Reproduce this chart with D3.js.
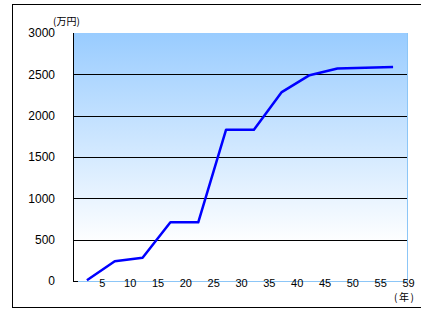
<!DOCTYPE html>
<html>
<head>
<meta charset="utf-8">
<script src="https://cdn.jsdelivr.net/npm/d3@7"></script>
<style>
  body { margin: 0; background: #fff; }
  text { font-family: "Liberation Sans", Arial, sans-serif; }
</style>
</head>
<body>
<div id="container"></div>
<script>
const w = 421;
const h = 309;

// data (万円 per period)
const values = [10, 240, 280, 710, 710, 1830, 1830, 2285, 2490, 2570, 2580, 2590];
const xLabels = ['5', '10', '15', '20', '25', '30', '35', '40', '45', '50', '55', '59'];
const yTicks = [0, 500, 1000, 1500, 2000, 2500, 3000];

const pLeft = 73, pRight = 407, pTop = 33, pBottom = 281;

const svg = d3.select('#container')
  .append('svg')
    .attr('width', w)
    .attr('height', h)
    .attr('viewBox', [0, 0, w, h]);

// outer frame (right side runs off the picture)
svg.append('rect')
  .attr('x', 12.5)
  .attr('y', 4.5)
  .attr('width', 420)
  .attr('height', 303)
  .attr('fill', 'none')
  .attr('stroke', '#000');

const x = d3.scaleLinear()
  .domain([0, values.length])
  .range([pLeft, pRight]);

const y = d3.scaleLinear()
  .domain([0, 3000])
  .range([pBottom, pTop]);

const grad = svg.append('defs')
  .append('linearGradient')
    .attr('id', 'bg')
    .attr('x1', 0).attr('y1', 0)
    .attr('x2', 0).attr('y2', 1);
grad.append('stop').attr('offset', '0%').attr('stop-color', '#99ccff');
grad.append('stop').attr('offset', '85%').attr('stop-color', '#ffffff');
grad.append('stop').attr('offset', '100%').attr('stop-color', '#ffffff');

svg.append('rect')
  .attr('x', pLeft)
  .attr('y', pTop)
  .attr('width', pRight - pLeft)
  .attr('height', pBottom - pTop)
  .attr('fill', 'url(#bg)');

// right border of the plot
svg.append('line')
  .attr('x1', pRight + 0.5).attr('x2', pRight + 0.5)
  .attr('y1', pTop).attr('y2', pBottom)
  .attr('stroke', '#8cc6f7');

// gridlines
svg.append('g')
  .selectAll('line')
  .data(yTicks.filter(d => d > 0 && d < 3000))
  .enter()
  .append('line')
    .attr('x1', pLeft)
    .attr('x2', pRight)
    .attr('y1', d => Math.round(y(d)) + 0.5)
    .attr('y2', d => Math.round(y(d)) + 0.5)
    .attr('stroke', '#000');

// y axis
svg.append('line')
  .attr('x1', pLeft + 0.5).attr('x2', pLeft + 0.5)
  .attr('y1', pTop).attr('y2', pBottom + 1)
  .attr('stroke', '#000');

svg.append('line')
  .attr('x1', pLeft).attr('x2', pLeft + 5)
  .attr('y1', pBottom + 0.5).attr('y2', pBottom + 0.5)
  .attr('stroke', '#000');

svg.append('g')
  .selectAll('text')
  .data(yTicks)
  .enter()
  .append('text')
    .attr('x', 55)
    .attr('y', d => y(d))
    .attr('dy', '0.35em')
    .attr('text-anchor', 'end')
    .style('font-size', '12px')
    .attr('fill', '#000')
    .text(d => d);

// x axis
svg.append('line')
  .attr('x1', pLeft + 5).attr('x2', pRight + 1)
  .attr('y1', pBottom + 0.5).attr('y2', pBottom + 0.5)
  .attr('stroke', '#8cc6f7');

svg.append('g')
  .selectAll('text')
  .data(xLabels)
  .enter()
  .append('text')
    .attr('x', (d, i) => x(i + 1) + 1.5)
    .attr('y', pBottom + 6)
    .attr('text-anchor', 'middle')
    .style('font-size', '11px')
    .attr('fill', '#000')
    .text(d => d);

// line
const line = d3.line()
  .x((d, i) => x(i + 0.5))
  .y(d => y(d));

svg.append('path')
  .datum(values)
  .attr('d', line)
  .attr('fill', 'none')
  .attr('stroke', '#0000ff')
  .attr('stroke-width', 2.5)
  .attr('stroke-linejoin', 'round');

// unit labels
svg.append('text')
  .attr('x', 53)
  .attr('y', 25)
  .style('font-family', '"Noto Sans CJK JP", sans-serif')
  .style('font-size', '10px')
  .text('(万円)');

svg.append('text')
  .attr('x', 394)
  .attr('y', 301)
  .style('font-family', '"Noto Sans CJK JP", sans-serif')
  .style('font-size', '10px')
  .style('letter-spacing', '1.5px')
  .text('(年)');
</script>
</body>
</html>
